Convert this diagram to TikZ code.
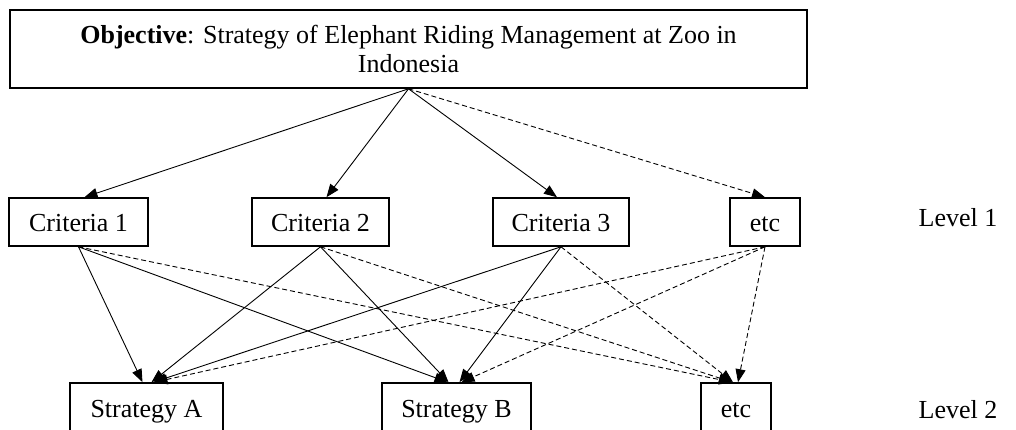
\documentclass[tikz,border=0pt]{standalone}
\usepackage{fontspec}
\setmainfont{Liberation Serif}
\usetikzlibrary{arrows.meta}
\begin{document}
\begin{tikzpicture}[x=1pt,y=-1pt,
  box/.style={draw, line width=1.6pt, inner sep=0pt, font=\fontsize{26}{29}\selectfont},
  sbox/.style={box, text height=18pt, text depth=6pt},
  cbox/.style={box, text height=22pt, text depth=3pt},
  lbl/.style={inner sep=0pt, font=\fontsize{26}{29}\selectfont},
  link/.style={line width=0.9pt, -{Triangle[length=13pt,width=10pt]}},
  dlink/.style={link, dash pattern=on 5pt off 3pt}]
\useasboundingbox (0,0) rectangle (1016,430);
\clip (0,0) rectangle (1016,430);
\node[box, minimum width=797pt, minimum height=78pt, align=center] (obj) at (408.5,49)
  {\textbf{Objective}: Strategy of Elephant Riding Management at Zoo in\\Indonesia};
\node[cbox, minimum width=139pt, minimum height=48pt] (c1) at (78.5,222) {Criteria 1};
\node[cbox, minimum width=137pt, minimum height=48pt] (c2) at (320.5,222) {Criteria 2};
\node[cbox, minimum width=136pt, minimum height=48pt] (c3) at (561,222) {Criteria 3};
\node[cbox, minimum width=70pt, minimum height=48pt] (e1) at (765,222) {etc};
\node[sbox, minimum width=153pt, minimum height=56pt] (sa) at (146.5,411) {Strategy A};
\node[sbox, minimum width=149pt, minimum height=56pt] (sb) at (456.5,411) {Strategy B};
\node[sbox, minimum width=70pt, minimum height=56pt] (e2) at (736,411) {etc};
\node[lbl] (l1) at (958,218) {Level 1};
\node[lbl] (l2) at (958,410) {Level 2};
\draw[link] (obj.south) -- ([xshift=6pt]c1.north);
\draw[link] (obj.south) -- ([xshift=6pt]c2.north);
\draw[link] (obj.south) -- ([xshift=-4pt]c3.north);
\draw[dlink] (obj.south) -- (e1.north);
\draw[link] (c1.south) -- ([xshift=-4pt]sa.north);
\draw[link] (c1.south) -- ([xshift=-9pt]sb.north);
\draw[dlink] (c1.south) -- ([xshift=-4pt]e2.north);
\draw[link] (c2.south) -- ([xshift=5pt]sa.north);
\draw[link] (c2.south) -- ([xshift=-8pt]sb.north);
\draw[dlink] (c2.south) -- ([xshift=-4pt]e2.north);
\draw[link] (c3.south) -- ([xshift=7pt]sa.north);
\draw[link] (c3.south) -- ([xshift=3pt]sb.north);
\draw[dlink] (c3.south) -- ([xshift=-3pt]e2.north);
\draw[dlink] (e1.south) -- ([xshift=8pt]sa.north);
\draw[dlink] (e1.south) -- ([xshift=5pt]sb.north);
\draw[dlink] (e1.south) -- ([xshift=2pt]e2.north);
\end{tikzpicture}
\end{document}
